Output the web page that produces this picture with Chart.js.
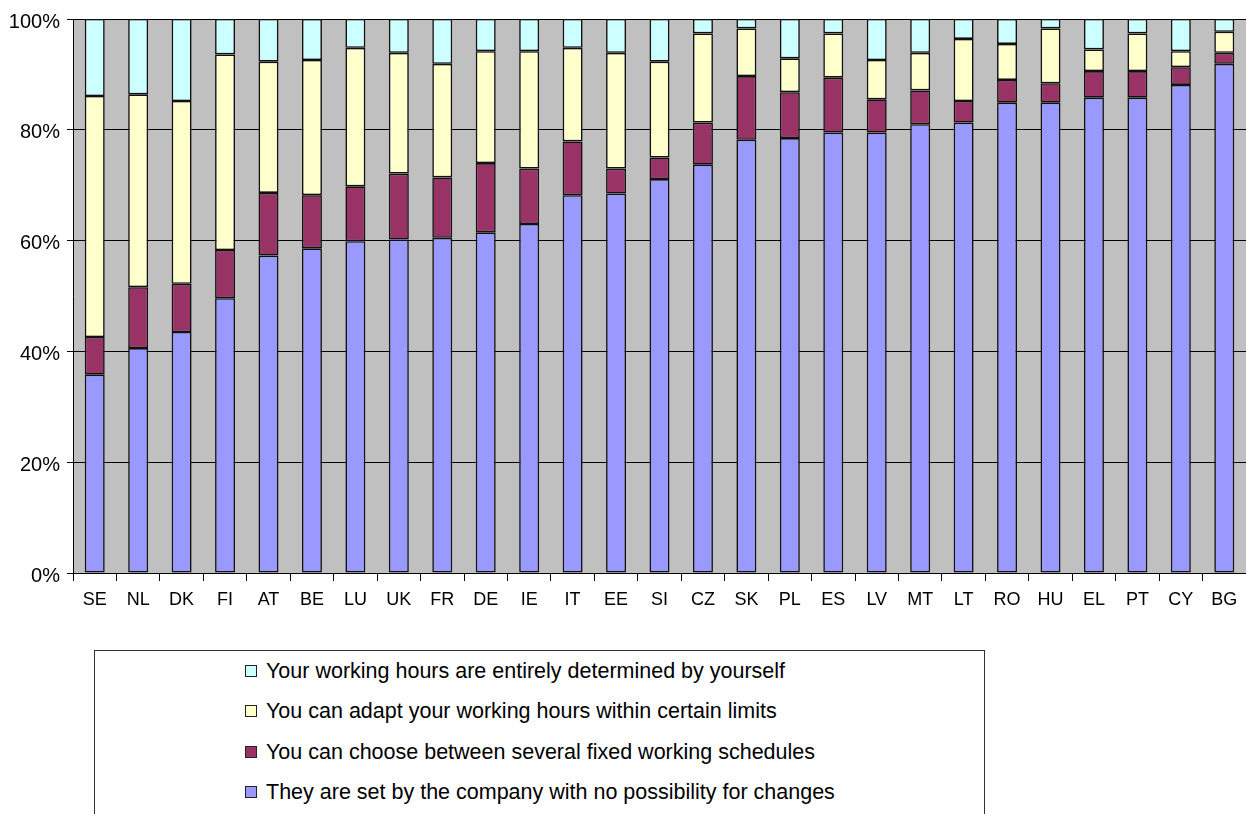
<!DOCTYPE html>
<html lang="en">
<head>
<meta charset="UTF-8">
<title>Working hours flexibility by country</title>
<style>
  body { margin: 0; background: #fff; font-family: "Liberation Sans", Arial, sans-serif; }
  #wrap { position: relative; width: 1246px; height: 814px; overflow: hidden; }
  #chart { position: absolute; left: 0; top: 0; }
  #legend {
    position: absolute; left: 94px; top: 650px; width: 891px; height: 220px;
    border: 1.5px solid #333; box-sizing: border-box;
  }
  .item {
    position: absolute; left: 150px; height: 24px;
    display: flex; align-items: center;
    font-size: 21.5px; color: #000; white-space: nowrap;
  }
  .swatch { width: 10px; height: 10px; border: 1px solid #222; margin-right: 9px; }
</style>
</head>
<body>
<div id="wrap">
  <canvas id="chart" width="1246" height="640"></canvas>
  <div id="legend"></div>
</div>

<script src="https://cdn.jsdelivr.net/npm/chart.js"></script>
<script>
  const countries = ['SE', 'NL', 'DK', 'FI', 'AT', 'BE', 'LU', 'UK', 'FR', 'DE', 'IE', 'IT', 'EE', 'SI',
    'CZ', 'SK', 'PL', 'ES', 'LV', 'MT', 'LT', 'RO', 'HU', 'EL', 'PT', 'CY', 'BG'];

  // shares in %, bottom to top of each bar
  const setByCompany = [35.8, 40.6, 43.5, 49.6, 57.3, 58.6, 59.9, 60.2, 60.5, 61.5, 63.0, 68.2, 68.5, 71.1,
    73.7, 78.2, 78.5, 79.5, 79.5, 81.0, 81.3, 84.9, 84.9, 85.8, 85.8, 88.1, 91.9];
  const fixedSchedules = [6.8, 11.0, 8.7, 8.7, 11.3, 9.6, 9.9, 11.9, 10.9, 12.5, 10.0, 9.7, 4.5, 3.9,
    7.6, 11.5, 8.3, 9.9, 6.0, 6.1, 3.9, 4.1, 3.5, 4.8, 4.8, 3.2, 2.0];
  const withinLimits = [43.5, 34.8, 33.0, 35.3, 23.7, 24.4, 25.0, 21.8, 20.5, 20.2, 21.2, 16.9, 20.9, 17.3,
    16.1, 8.6, 6.1, 8.0, 7.1, 6.8, 11.2, 6.5, 9.9, 3.9, 6.8, 2.9, 3.8];
  const byYourself = [13.9, 13.6, 14.8, 6.4, 7.7, 7.4, 5.2, 6.1, 8.1, 5.8, 5.8, 5.2, 6.1, 7.7,
    2.6, 1.7, 7.1, 2.6, 7.4, 6.1, 3.6, 4.5, 1.7, 5.5, 2.6, 5.8, 2.3];

  const yTicks = [0, 20, 40, 60, 80, 100];

  const plotBg = {
    id: 'plotBg',
    beforeDraw(chart) {
      const { ctx, chartArea: a } = chart;
      ctx.save();
      ctx.fillStyle = '#c0c0c0';
      ctx.fillRect(a.left, a.top, a.right - a.left, a.bottom - a.top);
      ctx.restore();
    }
  };

  function series(label, data, color) {
    return {
      label: label,
      data: data,
      backgroundColor: color,
      borderColor: '#111',
      borderWidth: 1.6,
      borderSkipped: false,
      barPercentage: 0.46,
      categoryPercentage: 1.0
    };
  }

  const chart = new Chart(document.getElementById('chart'), {
    type: 'bar',
    data: {
      labels: countries,
      datasets: [
        series('They are set by the company with no possibility for changes', setByCompany, '#9999ff'),
        series('You can choose between several fixed working schedules', fixedSchedules, '#993366'),
        series('You can adapt your working hours within certain limits', withinLimits, '#ffffcc'),
        series('Your working hours are entirely determined by yourself', byYourself, '#ccffff')
      ]
    },
    options: {
      responsive: false,
      animation: false,
      layout: { padding: { top: 18, right: 0, left: 0, bottom: 0 } },
      plugins: {
        legend: { display: false },
        tooltip: { enabled: true }
      },
      scales: {
        x: {
          stacked: true,
          afterFit(scale) { scale.height = 67; },
          grid: { offset: true, drawOnChartArea: false, color: '#000', tickLength: 8 },
          border: { color: '#000', width: 1 },
          ticks: { color: '#000', font: { family: 'Liberation Sans', size: 18 }, padding: 8, maxRotation: 0, autoSkip: false }
        },
        y: {
          stacked: true,
          min: 0,
          max: 100,
          afterFit(scale) { scale.width = 73; },
          afterBuildTicks(scale) { scale.ticks = yTicks.map(v => ({ value: v })); },
          grid: { color: '#000', tickLength: 6 },
          border: { color: '#000', width: 1 },
          ticks: {
            color: '#000',
            font: { family: 'Liberation Sans', size: 20 },
            padding: 7,
            labelOffset: 3,
            callback: v => v + '%'
          }
        }
      }
    },
    plugins: [plotBg]
  });

  // legend box: top row is the top segment
  const legendEl = document.getElementById('legend');
  const rowTops = [8, 48, 89, 129];
  chart.data.datasets.slice().reverse().forEach((ds, i) => {
    const item = document.createElement('div');
    item.className = 'item';
    item.style.top = rowTops[i] + 'px';
    const sw = document.createElement('span');
    sw.className = 'swatch';
    sw.style.background = ds.backgroundColor;
    item.appendChild(sw);
    item.appendChild(document.createTextNode(ds.label));
    legendEl.appendChild(item);
  });
</script>
</body>
</html>
